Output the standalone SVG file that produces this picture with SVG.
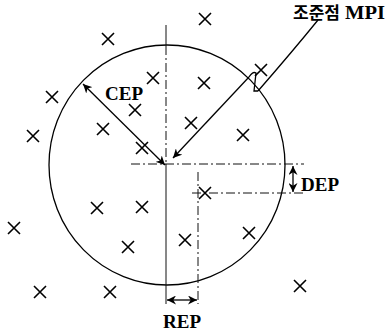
<svg xmlns="http://www.w3.org/2000/svg" xmlns:xlink="http://www.w3.org/1999/xlink" width="387" height="333" viewBox="0 0 387 333">
<style>
.ln{fill:none;stroke:#000;stroke-width:1.3}
.thin{fill:none;stroke:#111;stroke-width:1}
.dd{fill:none;stroke:#111;stroke-width:1;stroke-dasharray:9 3 2 3}
.xm{stroke:#000;stroke-width:1.6;fill:none}
.lbl{font-family:"Liberation Serif",serif;font-weight:bold;font-size:19px;fill:#000}
.kr{font-family:"Noto Sans CJK KR",sans-serif;font-weight:bold;font-size:17px;fill:#000}
</style>
<defs>
<path id="x" class="xm" d="M-6,-6 L6,6 M6,-6 L-6,6"/>
<marker id="ah" viewBox="0 0 10 10" refX="10" refY="5" markerWidth="9" markerHeight="9" markerUnits="userSpaceOnUse" orient="auto-start-reverse">
<path d="M0,0 L10,5 L0,10 L3,5 Z" fill="#000"/>
</marker>
</defs>
<rect width="387" height="333" fill="#fff"/>
<g id="circle">
<ellipse cx="167" cy="165" rx="118" ry="120" class="ln"/>
</g>
<g id="axes">
<line x1="166" y1="25" x2="166" y2="46" class="thin"/>
<line x1="166" y1="46" x2="166" y2="164" class="dd"/>
<line x1="166" y1="164" x2="166" y2="304" class="thin"/>
<line x1="131" y1="164" x2="304" y2="164" class="dd"/>
<line x1="192" y1="193" x2="305" y2="193" class="dd"/>
<line x1="198" y1="172" x2="198" y2="304" class="dd"/>
</g>
<g id="markers">
<use xlink:href="#x" x="205" y="19"/>
<use xlink:href="#x" x="108" y="39"/>
<use xlink:href="#x" x="153" y="78"/>
<use xlink:href="#x" x="204" y="83"/>
<use xlink:href="#x" x="52" y="97"/>
<use xlink:href="#x" x="261" y="70"/>
<use xlink:href="#x" x="135" y="110"/>
<use xlink:href="#x" x="103" y="129"/>
<use xlink:href="#x" x="191" y="123"/>
<use xlink:href="#x" x="33" y="136"/>
<use xlink:href="#x" x="243" y="135"/>
<use xlink:href="#x" x="142" y="148"/>
<use xlink:href="#x" x="205" y="193"/>
<use xlink:href="#x" x="97" y="208"/>
<use xlink:href="#x" x="142" y="207"/>
<use xlink:href="#x" x="14" y="228"/>
<use xlink:href="#x" x="128" y="247"/>
<use xlink:href="#x" x="185" y="240"/>
<use xlink:href="#x" x="249" y="233"/>
<use xlink:href="#x" x="40" y="292"/>
<use xlink:href="#x" x="110" y="292"/>
<use xlink:href="#x" x="300" y="286"/>
</g>
<g id="connectors">
<line x1="83" y1="84" x2="165" y2="165" class="ln" marker-start="url(#ah)" marker-end="url(#ah)"/>
<line x1="249" y1="77" x2="173" y2="158" class="ln" marker-end="url(#ah)"/>
<path d="M249,77 Q253,71 256,73 L254,91 L258,91" class="ln"/>
<path d="M258,91 Q292,52 318,20" class="ln"/>
<line x1="293" y1="166" x2="293" y2="192" class="ln" marker-start="url(#ah)" marker-end="url(#ah)"/>
<line x1="167" y1="300" x2="197" y2="300" class="ln" marker-start="url(#ah)" marker-end="url(#ah)"/>
</g>
<g id="labels">
<text x="105" y="100" class="lbl">CEP</text>
<text x="301" y="191" class="lbl">DEP</text>
<text x="163" y="328" class="lbl">REP</text>
<text x="293" y="19" class="kr">조준점</text>
<text x="345" y="19" class="lbl" textLength="40" lengthAdjust="spacingAndGlyphs">MPI</text>
</g>
</svg>
